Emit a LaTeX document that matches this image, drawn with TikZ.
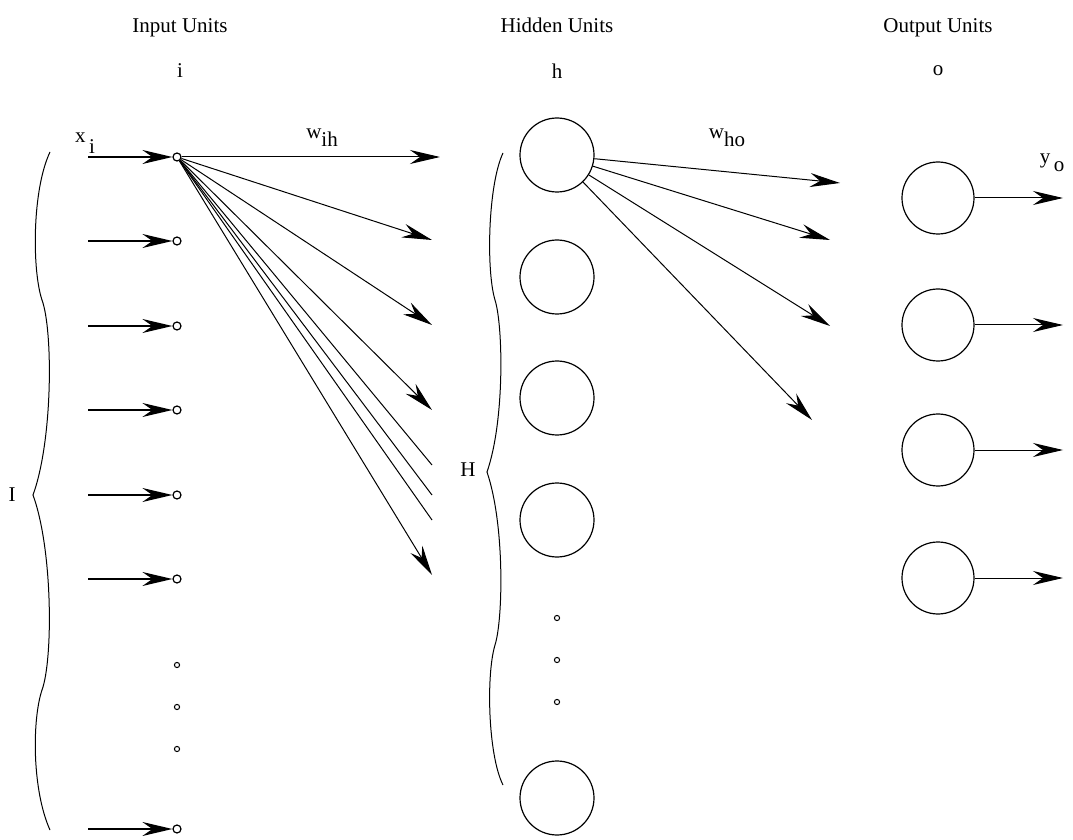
\documentclass[tikz,border=0pt]{standalone}
\usepackage{fontspec}
\setmainfont{Liberation Serif}
\usepackage{tikz}
\usetikzlibrary{arrows.meta}

\begin{document}
\begin{tikzpicture}[
  x=0.5pt,y=-0.5pt,
  font=\fontsize{10.5}{12}\selectfont,
  heading/.style={anchor=base},
  inunit/.style={draw,circle,minimum size=4pt,inner sep=0pt,line width=0.6pt},
  gap/.style={draw,circle,minimum size=2.6pt,inner sep=0pt,line width=0.5pt},
  bigunit/.style={draw,circle,minimum size=37pt,inner sep=0pt,line width=0.6pt},
  feed/.style={-{Stealth[length=15pt,width=7pt,inset=5pt]},line width=0.8pt},
  wire/.style={line width=0.5pt},
  weight/.style={-{Stealth[length=15pt,width=7pt,inset=5pt]},line width=0.5pt},
  brace/.style={line width=0.5pt}
]
\useasboundingbox (0,0) rectangle (1073,840);

% column headings
\node[heading] (tin) at (180,33) {Input Units};
\node[heading] (thid) at (557,33) {Hidden Units};
\node[heading] (tout) at (938,33) {Output Units};
\node (lin) at (180,71) {i};
\node (lhid) at (557,71) {h};
\node (lout) at (938,71) {o};

% input layer
\foreach \k/\y in {1/157,2/241,3/326,4/410,5/495,6/579,7/829} {
  \node[inunit] (in\k) at (177,\y) {};
  \coordinate (src\k) at (88,\y);
  \draw[feed] (src\k) -- (in\k);
}
\node[gap] (din1) at (177,665) {};
\node[gap] (din2) at (177,707) {};
\node[gap] (din3) at (177,749) {};
\node (xi) at (85,143) {x\,\raisebox{-1.1ex}{i}};

% fan out of the first input unit
\coordinate (f1) at (440,157);
\coordinate (f2) at (432,240);
\coordinate (f3) at (432,325);
\coordinate (f4) at (432,410);
\coordinate (f5) at (432,465);
\coordinate (f6) at (432,495);
\coordinate (f7) at (432,520);
\coordinate (f8) at (432,575);
\draw[weight] (in1) -- (f1);
\draw[weight] (in1) -- (f2);
\draw[weight] (in1) -- (f3);
\draw[weight] (in1) -- (f4);
\draw[wire] (in1) -- (f5);
\draw[wire] (in1) -- (f6);
\draw[wire] (in1) -- (f7);
\draw[weight] (in1) -- (f8);
\node (wih) at (322,138) {w\raisebox{-0.8ex}{ih}};

% brace over the inputs
\draw[brace] (50,152) .. controls (32,190) and (32,270) .. (42,300)
  .. controls (53,330) and (53,440) .. (33,495)
  .. controls (53,550) and (53,660) .. (42,690)
  .. controls (32,720) and (32,790) .. (50,830);
\node (bi) at (12,495) {I};

% hidden layer
\foreach \k/\y in {1/155,2/277,3/398,4/520,5/798}
  \node[bigunit] (hid\k) at (557,\y) {};
\node[gap] (dhid1) at (557,618) {};
\node[gap] (dhid2) at (557,660) {};
\node[gap] (dhid3) at (557,702) {};

\draw[brace] (503,153) .. controls (488,185) and (486,270) .. (495,300)
  .. controls (503,325) and (505,420) .. (487,472)
  .. controls (505,525) and (503,620) .. (495,645)
  .. controls (486,675) and (488,755) .. (503,785);
\node (bh) at (468,470) {H};

% fan out of the first hidden unit
\coordinate (g1) at (840,183);
\coordinate (g2) at (830,240);
\coordinate (g3) at (830,326);
\coordinate (g4) at (812,420);
\draw[weight] (hid1) -- (g1);
\draw[weight] (hid1) -- (g2);
\draw[weight] (hid1) -- (g3);
\draw[weight] (hid1) -- (g4);
\node (who) at (727,138) {w\raisebox{-0.8ex}{ho}};

% output layer
\foreach \k/\y in {1/198,2/325,3/450,4/578} {
  \node[bigunit,minimum size=36pt] (out\k) at (938,\y) {};
  \coordinate (dst\k) at (1063,\y);
  \draw[weight] (out\k) -- (dst\k);
}
\node (yo) at (1052,163) {y\,\raisebox{-0.8ex}{o}};
\end{tikzpicture}
\end{document}
